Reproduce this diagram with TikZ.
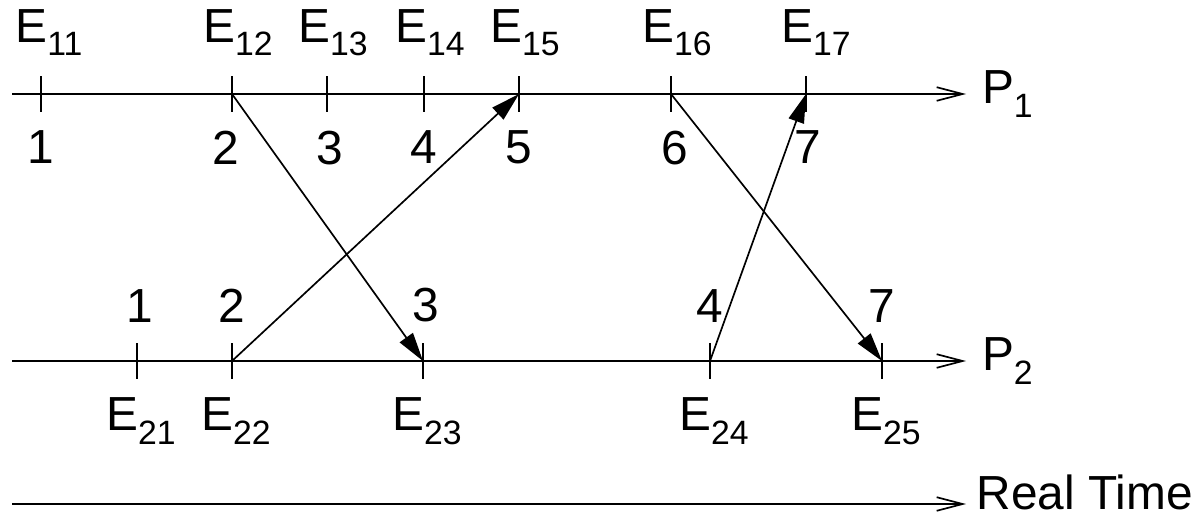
\documentclass[tikz,border=0pt]{standalone}
\usepackage{fontspec}
\setmainfont{Liberation Sans}
\usetikzlibrary{positioning,arrows.meta}

% lowered index after an event or process name
\newcommand{\idx}[1]{\raisebox{-0.28em}{\fontsize{24}{28}\selectfont #1}}

\begin{document}
\begin{tikzpicture}[
  x=0.025cm, y=-0.025cm,
  font=\fontsize{34}{40}\selectfont,
  line width=1.2pt,
  inner sep=0pt,
  axis/.style={-{Straight Barb[length=0.65cm, width=0.34cm]}},
  msg/.style={-{Triangle[length=0.72cm, width=0.4cm]}},
  tickmark/.style={line width=1.2pt},
]
\useasboundingbox (0,0) rectangle (1194,520);

% --- Process lines and real time ---
\coordinate (p1start) at (12,94);
\coordinate (p1end)   at (966,94);
\coordinate (p2start) at (12,361);
\coordinate (p2end)   at (966,361);
\coordinate (rtstart) at (12,504);
\coordinate (rtend)   at (966,504);

\draw[axis] (p1start) -- (p1end);
\draw[axis] (p2start) -- (p2end);
\draw[axis] (rtstart) -- (rtend);

\node[right=0.38cm of p1end] (p1) {P\idx{1}};
\node[right=0.38cm of p2end] (p2) {P\idx{2}};
\node[right=0.25cm of rtend, yshift=0.29cm] (rt) {Real Time};

% --- Events of P1 ---
\coordinate (e11) at (41,94);
\coordinate (e12) at (232,94);
\coordinate (e13) at (327,94);
\coordinate (e14) at (424,94);
\coordinate (e15) at (519,94);
\coordinate (e16) at (671,94);
\coordinate (e17) at (806,94);

\draw[tickmark] (e11) ++(0,-18) -- ++(0,36);
\draw[tickmark] (e12) ++(0,-18) -- ++(0,36);
\draw[tickmark] (e13) ++(0,-18) -- ++(0,36);
\draw[tickmark] (e14) ++(0,-18) -- ++(0,36);
\draw[tickmark] (e15) ++(0,-18) -- ++(0,36);
\draw[tickmark] (e16) ++(0,-18) -- ++(0,36);
\draw[tickmark] (e17) ++(0,-18) -- ++(0,36);

\node[above=0.93cm of e11, xshift=0.2cm] (n11) {E\idx{11}};
\node[above=0.93cm of e12, xshift=0.15cm] (n12) {E\idx{12}};
\node[above=0.93cm of e13, xshift=0.15cm] (n13) {E\idx{13}};
\node[above=0.93cm of e14, xshift=0.15cm] (n14) {E\idx{14}};
\node[above=0.93cm of e15, xshift=0.15cm] (n15) {E\idx{15}};
\node[above=0.93cm of e16, xshift=0.15cm] (n16) {E\idx{16}};
\node[above=0.93cm of e17, xshift=0.25cm] (n17) {E\idx{17}};

\node[below=0.9cm of e11] (c11) {1};
\node[below=0.9cm of e12, xshift=-0.15cm] (c12) {2};
\node[below=0.9cm of e13, xshift=0.075cm] (c13) {3};
\node[below=0.9cm of e14] (c14) {4};
\node[below=0.9cm of e15] (c15) {5};
\node[below=0.9cm of e16, xshift=0.1cm] (c16) {6};
\node[below=0.9cm of e17, xshift=0.05cm] (c17) {7};

% --- Events of P2 ---
\coordinate (e21) at (137,361);
\coordinate (e22) at (232,361);
\coordinate (e23) at (423,361);
\coordinate (e24) at (710,361);
\coordinate (e25) at (882,361);

\draw[tickmark] (e21) ++(0,-18) -- ++(0,36);
\draw[tickmark] (e22) ++(0,-18) -- ++(0,36);
\draw[tickmark] (e23) ++(0,-18) -- ++(0,36);
\draw[tickmark] (e24) ++(0,-18) -- ++(0,36);
\draw[tickmark] (e25) ++(0,-18) -- ++(0,36);

\node[above=0.95cm of e21, xshift=0.075cm] (c21) {1};
\node[above=0.95cm of e22] (c22) {2};
\node[above=0.95cm of e23, xshift=0.075cm] (c23) {3};
\node[above=0.95cm of e24] (c24) {4};
\node[above=0.95cm of e25] (c25) {7};

\node[below=0.9cm of e21, xshift=0.1cm] (n21) {E\idx{21}};
\node[below=0.9cm of e22, xshift=0.1cm] (n22) {E\idx{22}};
\node[below=0.9cm of e23, xshift=0.1cm] (n23) {E\idx{23}};
\node[below=0.9cm of e24, xshift=0.1cm] (n24) {E\idx{24}};
\node[below=0.9cm of e25, xshift=0.1cm] (n25) {E\idx{25}};

% --- Messages between the processes ---
\draw[msg] (e12) -- (e23);
\draw[msg] (e22) -- (e15);
\draw[msg] (e16) -- (e25);
\draw[msg] (e24) -- (e17);

\end{tikzpicture}
\end{document}
